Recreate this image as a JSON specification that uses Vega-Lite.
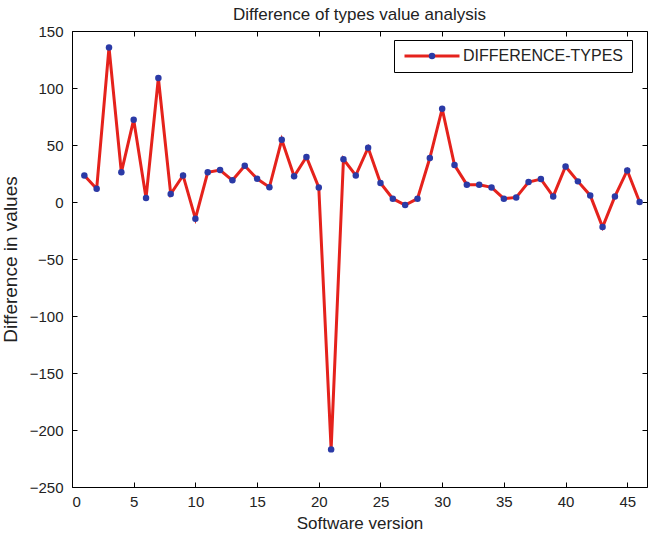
{
  "$schema": "https://vega.github.io/schema/vega-lite/v6.json",
  "width": 575,
  "height": 456,
  "autosize": "none",
  "padding": {"left": 72, "top": 31, "right": 1, "bottom": 52},
  "background": "white",
  "config": {
    "font": "Liberation Sans",
    "view": {"stroke": "black", "strokeWidth": 1},
    "axis": {"grid": false, "domain": false, "tickColor": "black", "labelColor": "#222", "titleColor": "#222", "titleFontWeight": "normal"}
  },
  "title": {"text": "Difference of types value analysis", "fontSize": 17, "fontWeight": "normal", "color": "#222", "offset": 0, "font": "Liberation Sans"},
  "data": {"values": [
    {"version": 1, "value": 23.3, "series": "DIFFERENCE-TYPES"},
    {"version": 2, "value": 11.7, "series": "DIFFERENCE-TYPES"},
    {"version": 3, "value": 135.6, "series": "DIFFERENCE-TYPES"},
    {"version": 4, "value": 26, "series": "DIFFERENCE-TYPES"},
    {"version": 5, "value": 72.2, "series": "DIFFERENCE-TYPES"},
    {"version": 6, "value": 3.5, "series": "DIFFERENCE-TYPES"},
    {"version": 7, "value": 108.8, "series": "DIFFERENCE-TYPES"},
    {"version": 8, "value": 7, "series": "DIFFERENCE-TYPES"},
    {"version": 9, "value": 23.3, "series": "DIFFERENCE-TYPES"},
    {"version": 10, "value": -14.6, "series": "DIFFERENCE-TYPES"},
    {"version": 11, "value": 26, "series": "DIFFERENCE-TYPES"},
    {"version": 12, "value": 28, "series": "DIFFERENCE-TYPES"},
    {"version": 13, "value": 19, "series": "DIFFERENCE-TYPES"},
    {"version": 14, "value": 31.8, "series": "DIFFERENCE-TYPES"},
    {"version": 15, "value": 20.4, "series": "DIFFERENCE-TYPES"},
    {"version": 16, "value": 13, "series": "DIFFERENCE-TYPES"},
    {"version": 17, "value": 54.6, "series": "DIFFERENCE-TYPES"},
    {"version": 18, "value": 22.5, "series": "DIFFERENCE-TYPES"},
    {"version": 19, "value": 39.5, "series": "DIFFERENCE-TYPES"},
    {"version": 20, "value": 12.8, "series": "DIFFERENCE-TYPES"},
    {"version": 21, "value": -217, "series": "DIFFERENCE-TYPES"},
    {"version": 22, "value": 37.5, "series": "DIFFERENCE-TYPES"},
    {"version": 23, "value": 23.3, "series": "DIFFERENCE-TYPES"},
    {"version": 24, "value": 47.6, "series": "DIFFERENCE-TYPES"},
    {"version": 25, "value": 16.7, "series": "DIFFERENCE-TYPES"},
    {"version": 26, "value": 2.9, "series": "DIFFERENCE-TYPES"},
    {"version": 27, "value": -2.7, "series": "DIFFERENCE-TYPES"},
    {"version": 28, "value": 2.9, "series": "DIFFERENCE-TYPES"},
    {"version": 29, "value": 38.6, "series": "DIFFERENCE-TYPES"},
    {"version": 30, "value": 81.8, "series": "DIFFERENCE-TYPES"},
    {"version": 31, "value": 32.4, "series": "DIFFERENCE-TYPES"},
    {"version": 32, "value": 15.2, "series": "DIFFERENCE-TYPES"},
    {"version": 33, "value": 15.2, "series": "DIFFERENCE-TYPES"},
    {"version": 34, "value": 12.8, "series": "DIFFERENCE-TYPES"},
    {"version": 35, "value": 2.9, "series": "DIFFERENCE-TYPES"},
    {"version": 36, "value": 4, "series": "DIFFERENCE-TYPES"},
    {"version": 37, "value": 17.5, "series": "DIFFERENCE-TYPES"},
    {"version": 38, "value": 20.1, "series": "DIFFERENCE-TYPES"},
    {"version": 39, "value": 4.9, "series": "DIFFERENCE-TYPES"},
    {"version": 40, "value": 31.2, "series": "DIFFERENCE-TYPES"},
    {"version": 41, "value": 18.1, "series": "DIFFERENCE-TYPES"},
    {"version": 42, "value": 5.8, "series": "DIFFERENCE-TYPES"},
    {"version": 43, "value": -22, "series": "DIFFERENCE-TYPES"},
    {"version": 44, "value": 4.9, "series": "DIFFERENCE-TYPES"},
    {"version": 45, "value": 27.7, "series": "DIFFERENCE-TYPES"},
    {"version": 46, "value": 0, "series": "DIFFERENCE-TYPES"}
  ]},
  "layer": [
    {
      "mark": {"type": "point", "opacity": 0},
      "encoding": {
        "x": {"field": "version", "type": "quantitative", "scale": {"domain": [0, 46.6], "nice": false, "zero": false},
              "axis": {"orient": "top", "labels": false, "title": null, "values": [0,5,10,15,20,25,30,35,40,45], "tickSize": -5}},
        "y": {"field": "value", "type": "quantitative", "scale": {"domain": [-250, 150], "nice": false, "zero": false},
              "axis": {"orient": "right", "labels": false, "title": null, "values": [-250,-200,-150,-100,-50,0,50,100,150], "tickSize": -5}}
      }
    },
    {
      "layer": [
        {
          "mark": {"type": "line", "strokeWidth": 3},
          "encoding": {
            "stroke": {"field": "series", "type": "nominal", "scale": {"range": ["#e5221c"]},
              "legend": {"title": null, "orient": "none", "legendX": 322, "legendY": 9, "symbolType": "M-5,0H5", "symbolSize": 121, "symbolOffset": 22, "symbolStrokeWidth": 3,
                "padding": 8, "strokeColor": "black", "labelFontSize": 16, "labelOffset": 23, "labelLimit": 400, "labelColor": "#222", "labelFont": "Liberation Sans", "zindex": 1}}
          }
        },
        {
          "mark": {"type": "point", "filled": true, "size": 42, "opacity": 1},
          "encoding": {
            "fill": {"field": "series", "type": "nominal", "scale": {"range": ["#2b3aa6"]},
              "legend": {"title": null, "orient": "none", "legendX": 344, "legendY": 9, "symbolType": "circle", "symbolSize": 42, "symbolOpacity": 1,
                "padding": 8, "labelFontSize": 16, "labelOffset": 5, "labelExpr": "''", "labelLimit": 400, "labelFont": "Liberation Sans", "zindex": 2}}
          }
        }
      ],
      "encoding": {
        "x": {"field": "version", "type": "quantitative", "scale": {"domain": [0, 46.6], "nice": false, "zero": false},
              "axis": {"values": [0,5,10,15,20,25,30,35,40,45], "tickSize": -5, "labelPadding": 12, "labelFontSize": 15, "title": "Software version", "titleFontSize": 17, "titlePadding": 6}},
        "y": {"field": "value", "type": "quantitative", "scale": {"domain": [-250, 150], "nice": false, "zero": false},
              "axis": {"values": [-250,-200,-150,-100,-50,0,50,100,150], "tickSize": -5, "labelPadding": 14, "labelFontSize": 15, "title": "Difference in values", "titleFontSize": 19, "titlePadding": 9}}
      }
    }
  ],
  "resolve": {"scale": {"x": "independent", "y": "independent"}, "axis": {"x": "independent", "y": "independent"}}
}
